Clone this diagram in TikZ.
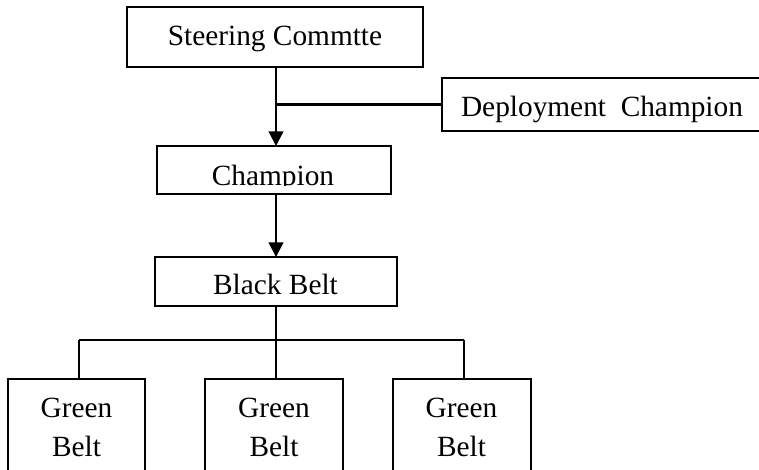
\documentclass[tikz,border=0pt]{standalone}
\usepackage{fontspec}
\setmainfont{Liberation Serif}
\usetikzlibrary{arrows.meta,fit}
\begin{document}
\begin{tikzpicture}[x=0.75pt,y=-0.75pt,
  box/.style={draw,line width=1.5pt,inner sep=0pt,outer sep=0pt},
  lbl/.style={anchor=base,inner sep=0pt,font=\fontsize{22}{29}\selectfont},
  link/.style={line width=1.6pt},
  arrowlink/.style={link,-{Triangle[length=11pt,width=11pt]}}]
\useasboundingbox (0,0) rectangle (759,469);

% boxes
\node[box,fit={(127,7) (423,67)}] (steer) {};
\node[box,fit={(442,78) (780,131)}] (deploy) {};
\node[box,fit={(157,146) (391,194)}] (champ) {};
\node[box,fit={(155,257) (397,306)}] (black) {};
\node[box,fit={(8,379) (145,490)}] (g1) {};
\node[box,fit={(205,379) (343,490)}] (g2) {};
\node[box,fit={(393,379) (531,490)}] (g3) {};

% labels
\node[lbl] (steerT) at (275,45) {Steering Commtte};
\node[lbl] (deployT) at (602,116) {Deployment\ \ Champion};
\begin{scope}
  \clip (158,147) rectangle (390,185);
  \node[lbl] (champT) at (273,185) {Champion};
\end{scope}
\node[lbl] (blackT) at (275.5,294) {Black Belt};
\node[lbl] (g1a) at (76.5,417) {Green};
\node[lbl] (g1b) at (76.5,456) {Belt};
\node[lbl] (g2a) at (274,417) {Green};
\node[lbl] (g2b) at (274,456) {Belt};
\node[lbl] (g3a) at (461.5,417) {Green};
\node[lbl] (g3b) at (461.5,456) {Belt};

% connectors: the main spine runs straight down at x = 276
\coordinate (spine) at (276,0);
\coordinate (bus) at (276,340);
\coordinate (busL) at (79,340);
\coordinate (busR) at (464,340);
\draw[arrowlink] (spine |- steer.south) -- (spine |- champ.north);
\draw[link] (spine |- deploy.west) -- (deploy.west);
\draw[arrowlink] (spine |- champ.south) -- (spine |- black.north);
\draw[link] (spine |- black.south) -- (bus);
\draw[link] (busL) -- (busR);
\draw[link] (busL) -- (busL |- g1.north);
\draw[link] (bus) -- (spine |- g2.north);
\draw[link] (busR) -- (busR |- g3.north);
\end{tikzpicture}
\end{document}
